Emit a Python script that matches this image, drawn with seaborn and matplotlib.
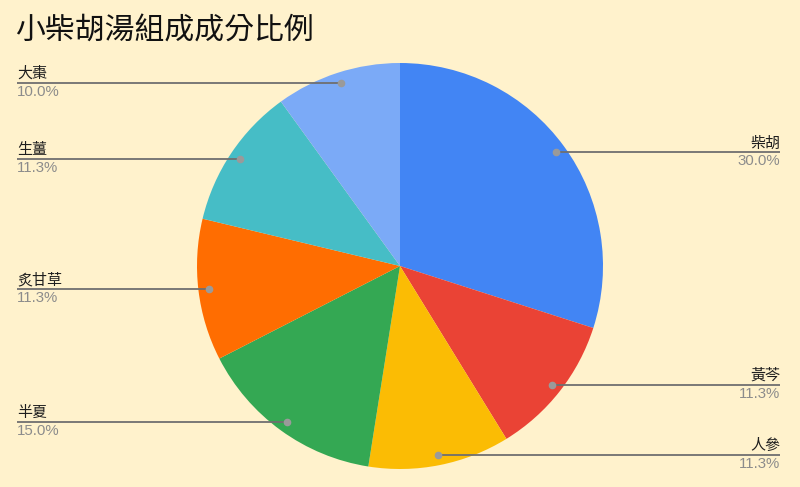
import numpy as np
import matplotlib
matplotlib.use("Agg")
import matplotlib.pyplot as plt
import seaborn as sns

title = "小柴胡湯組成成分比例"
herbs = ["柴胡", "黃芩", "人參", "半夏", "炙甘草", "生薑", "大棗"]
shares = [30.0, 11.3, 11.3, 15.0, 11.3, 11.3, 10.0]
colors = ["#4285F4", "#EA4335", "#FBBC04", "#34A853", "#FF6D01", "#46BDC6", "#7BAAF7"]

sns.set_style("white")
plt.rcParams['font.family'] = ['Noto Sans CJK TC', 'DejaVu Sans']

W, H = 800, 487
bg = "#FFF2CC"
fig = plt.figure(figsize=(W / 100, H / 100), dpi=100, facecolor=bg)
ax = fig.add_axes([0, 0, 1, 1])
ax.set_facecolor(bg)

cx, cy, R = 400, H - 266, 203
palette = sns.color_palette(colors)
wedges, _ = ax.pie(shares, colors=palette, startangle=90, counterclock=False,
                   center=(cx, cy), radius=R, frame=True,
                   wedgeprops=dict(linewidth=0))
ax.set_xlim(0, W)
ax.set_ylim(0, H)
ax.set_aspect('auto')
ax.axis('off')

for w, name, val in zip(wedges, herbs, shares):
    mid = np.deg2rad((w.theta1 + w.theta2) / 2)
    px = cx + 0.95 * R * np.cos(mid)
    py = cy + 0.95 * R * np.sin(mid)
    if np.cos(mid) >= 0:
        x_end, ha = 780, 'right'
    else:
        x_end, ha = 17, 'left'
    ax.plot([px, x_end], [py, py], color="#6f6f6f", lw=1.3, solid_capstyle='butt', zorder=3)
    ax.plot(px, py, 'o', color="#9a9a9a", ms=4.5, zorder=4)
    ax.text(x_end, py + 2, name, ha=ha, va='bottom', fontsize=10.8, fontweight='medium',
            color="#1e1e1e", family=['Noto Sans CJK TC', 'DejaVu Sans'])
    ax.text(x_end, py - 2, f"{val:.1f}%", ha=ha, va='top', fontsize=10.8,
            color="#8c8c8c", family=['Liberation Sans', 'DejaVu Sans'])

ax.text(15, H - 31, title, ha='left', va='center', fontsize=21.5, fontweight='medium',
        color="#111111", family=['Noto Sans CJK TC', 'DejaVu Sans'])

fig.savefig("out.png", dpi=100, facecolor=bg)
